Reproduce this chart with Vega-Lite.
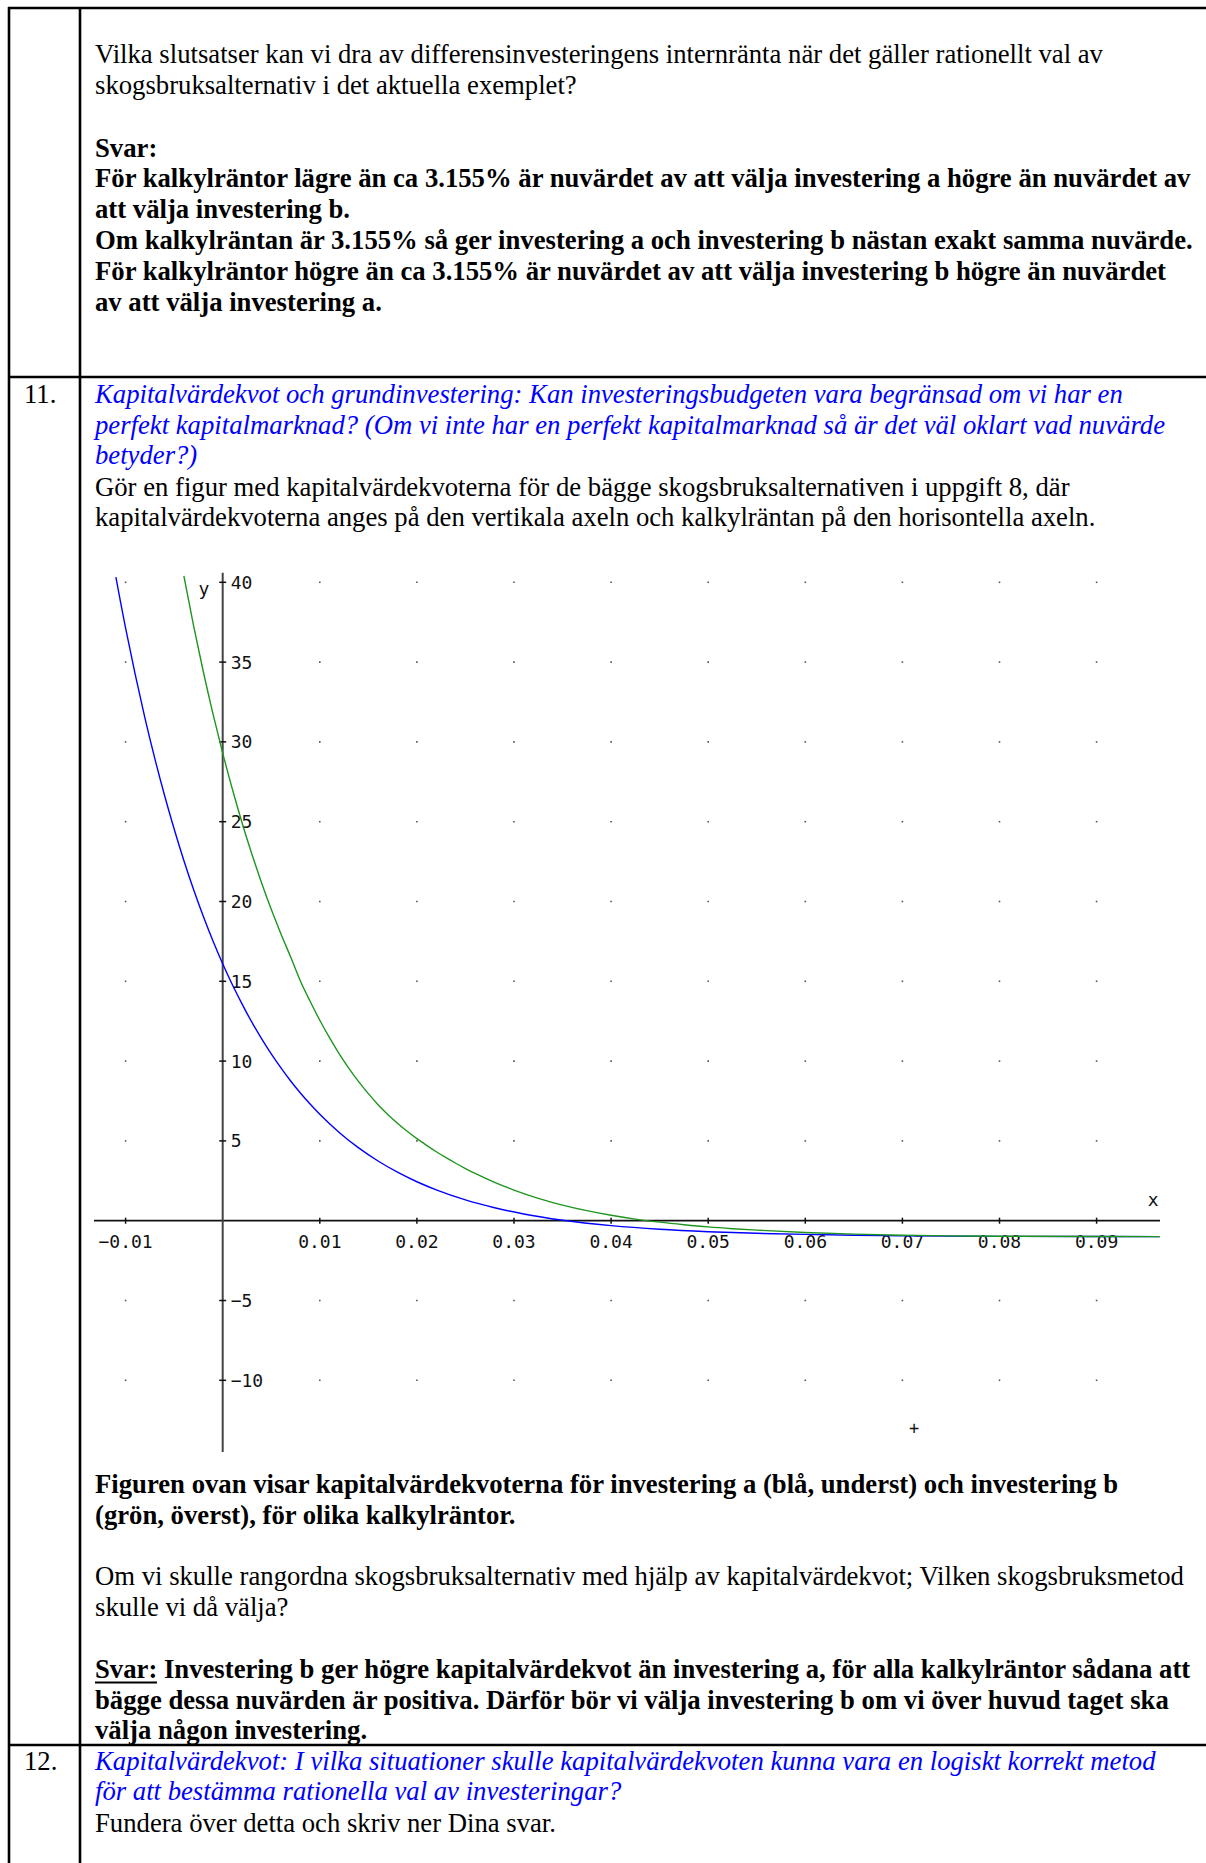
{
  "$schema": "https://vega.github.io/schema/vega-lite/v6.json",
  "width": 1206,
  "height": 1863,
  "autosize": {"type": "none"},
  "padding": 0,
  "background": "white",
  "config": {"view": {"stroke": null}},
  "datasets": {
    "curves": [
      {"s": "a", "r": -0.011, "k": 40.32},
      {"s": "a", "r": -0.0105, "k": 38.69},
      {"s": "a", "r": -0.01, "k": 37.13},
      {"s": "a", "r": -0.009, "k": 34.2},
      {"s": "a", "r": -0.008, "k": 31.48},
      {"s": "a", "r": -0.007, "k": 28.98},
      {"s": "a", "r": -0.006, "k": 26.67},
      {"s": "a", "r": -0.005, "k": 24.54},
      {"s": "a", "r": -0.004, "k": 22.57},
      {"s": "a", "r": -0.003, "k": 20.75},
      {"s": "a", "r": -0.002, "k": 19.08},
      {"s": "a", "r": -0.001, "k": 17.53},
      {"s": "a", "r": 0.0, "k": 16.1},
      {"s": "a", "r": 0.001, "k": 14.78},
      {"s": "a", "r": 0.002, "k": 13.57},
      {"s": "a", "r": 0.003, "k": 12.44},
      {"s": "a", "r": 0.004, "k": 11.41},
      {"s": "a", "r": 0.005, "k": 10.45},
      {"s": "a", "r": 0.006, "k": 9.57},
      {"s": "a", "r": 0.007, "k": 8.75},
      {"s": "a", "r": 0.008, "k": 8.0},
      {"s": "a", "r": 0.009, "k": 7.31},
      {"s": "a", "r": 0.01, "k": 6.67},
      {"s": "a", "r": 0.012, "k": 5.53},
      {"s": "a", "r": 0.014, "k": 4.56},
      {"s": "a", "r": 0.016, "k": 3.74},
      {"s": "a", "r": 0.018, "k": 3.04},
      {"s": "a", "r": 0.02, "k": 2.44},
      {"s": "a", "r": 0.022, "k": 1.93},
      {"s": "a", "r": 0.025, "k": 1.3},
      {"s": "a", "r": 0.028, "k": 0.81},
      {"s": "a", "r": 0.031, "k": 0.42},
      {"s": "a", "r": 0.035, "k": 0.03},
      {"s": "a", "r": 0.04, "k": -0.31},
      {"s": "a", "r": 0.045, "k": -0.54},
      {"s": "a", "r": 0.05, "k": -0.69},
      {"s": "a", "r": 0.055, "k": -0.79},
      {"s": "a", "r": 0.06, "k": -0.86},
      {"s": "a", "r": 0.065, "k": -0.91},
      {"s": "a", "r": 0.07, "k": -0.95},
      {"s": "a", "r": 0.08, "k": -0.98},
      {"s": "a", "r": 0.09, "k": -0.99},
      {"s": "a", "r": 0.0965, "k": -1.0},
      {"s": "b", "r": -0.004, "k": 40.4},
      {"s": "b", "r": -0.003, "k": 37.29},
      {"s": "b", "r": -0.002, "k": 34.41},
      {"s": "b", "r": -0.001, "k": 31.76},
      {"s": "b", "r": 0.0, "k": 29.3},
      {"s": "b", "r": 0.001, "k": 27.03},
      {"s": "b", "r": 0.002, "k": 24.92},
      {"s": "b", "r": 0.003, "k": 22.98},
      {"s": "b", "r": 0.004, "k": 21.18},
      {"s": "b", "r": 0.005, "k": 19.51},
      {"s": "b", "r": 0.006, "k": 17.97},
      {"s": "b", "r": 0.007, "k": 16.52},
      {"s": "b", "r": 0.008, "k": 15.02},
      {"s": "b", "r": 0.009, "k": 13.75},
      {"s": "b", "r": 0.01, "k": 12.56},
      {"s": "b", "r": 0.011, "k": 11.47},
      {"s": "b", "r": 0.012, "k": 10.46},
      {"s": "b", "r": 0.013, "k": 9.55},
      {"s": "b", "r": 0.014, "k": 8.71},
      {"s": "b", "r": 0.015, "k": 7.96},
      {"s": "b", "r": 0.016, "k": 7.27},
      {"s": "b", "r": 0.017, "k": 6.66},
      {"s": "b", "r": 0.018, "k": 6.11},
      {"s": "b", "r": 0.019, "k": 5.6},
      {"s": "b", "r": 0.02, "k": 5.14},
      {"s": "b", "r": 0.021, "k": 4.72},
      {"s": "b", "r": 0.022, "k": 4.32},
      {"s": "b", "r": 0.023, "k": 3.95},
      {"s": "b", "r": 0.024, "k": 3.6},
      {"s": "b", "r": 0.025, "k": 3.27},
      {"s": "b", "r": 0.026, "k": 2.96},
      {"s": "b", "r": 0.028, "k": 2.4},
      {"s": "b", "r": 0.03, "k": 1.92},
      {"s": "b", "r": 0.0325, "k": 1.4},
      {"s": "b", "r": 0.035, "k": 0.98},
      {"s": "b", "r": 0.0375, "k": 0.63},
      {"s": "b", "r": 0.04, "k": 0.34},
      {"s": "b", "r": 0.0425, "k": 0.1},
      {"s": "b", "r": 0.045, "k": -0.09},
      {"s": "b", "r": 0.0475, "k": -0.25},
      {"s": "b", "r": 0.05, "k": -0.39},
      {"s": "b", "r": 0.0525, "k": -0.5},
      {"s": "b", "r": 0.055, "k": -0.59},
      {"s": "b", "r": 0.06, "k": -0.74},
      {"s": "b", "r": 0.065, "k": -0.84},
      {"s": "b", "r": 0.07, "k": -0.91},
      {"s": "b", "r": 0.075, "k": -0.95},
      {"s": "b", "r": 0.08, "k": -0.97},
      {"s": "b", "r": 0.09, "k": -0.99},
      {"s": "b", "r": 0.0965, "k": -1.0}
    ],
    "grid": [
      {"gx": [-0.01, 0.01, 0.02, 0.03, 0.04, 0.05, 0.06, 0.07, 0.08, 0.09],
       "gy": [40, 35, 30, 25, 20, 15, 10, 5, -5, -10]}
    ]
  },
  "layer": [
    {
      "data": {"values": [{}]},
      "mark": {"type": "rule", "strokeWidth": 2.6, "color": "black"},
      "encoding": {
        "x": {"datum": -0.022111, "type": "quantitative", "scale": {"domain": [-0.022935, 0.101267], "nice": false, "zero": false}, "axis": null},
        "x2": {"datum": 0.101267},
        "y": {"datum": 75.984, "type": "quantitative", "scale": {"domain": [-40.2444, 76.485], "nice": false, "zero": false}, "axis": null}
      }
    },
    {
      "data": {"values": [{}]},
      "mark": {"type": "rule", "strokeWidth": 2.6, "color": "black"},
      "encoding": {
        "x": {"datum": -0.022111, "type": "quantitative", "axis": null},
        "x2": {"datum": 0.101267},
        "y": {"datum": 52.863, "type": "quantitative", "axis": null}
      }
    },
    {
      "data": {"values": [{}]},
      "mark": {"type": "rule", "strokeWidth": 2.6, "color": "black"},
      "encoding": {
        "x": {"datum": -0.022111, "type": "quantitative", "axis": null},
        "x2": {"datum": 0.101267},
        "y": {"datum": -32.851, "type": "quantitative", "axis": null}
      }
    },
    {
      "data": {"values": [{}]},
      "mark": {"type": "rule", "strokeWidth": 2.6, "color": "black"},
      "encoding": {
        "x": {"datum": -0.022008, "type": "quantitative", "axis": null},
        "y": {"datum": 76.05, "type": "quantitative", "axis": null},
        "y2": {"datum": -40.2444}
      }
    },
    {
      "data": {"values": [{}]},
      "mark": {"type": "rule", "strokeWidth": 2.6, "color": "black"},
      "encoding": {
        "x": {"datum": -0.014696, "type": "quantitative", "axis": null},
        "y": {"datum": 76.05, "type": "quantitative", "axis": null},
        "y2": {"datum": -40.2444}
      }
    },
    {
      "data": {"name": "grid"},
      "transform": [{"flatten": ["gx"]}, {"flatten": ["gy"]}],
      "mark": {"type": "square", "size": 2.5, "color": "#555", "opacity": 1},
      "encoding": {
        "x": {"field": "gx", "type": "quantitative", "axis": null},
        "y": {"field": "gy", "type": "quantitative", "axis": null}
      }
    },
    {
      "data": {"values": [{}]},
      "mark": {"type": "rule", "strokeWidth": 1.7, "color": "#111"},
      "encoding": {
        "x": {"datum": -0.013254, "type": "quantitative", "axis": null},
        "x2": {"datum": 0.096529},
        "y": {"datum": 0, "type": "quantitative", "axis": null}
      }
    },
    {
      "data": {"values": [{}]},
      "mark": {"type": "rule", "strokeWidth": 2, "color": "#444"},
      "encoding": {
        "x": {"datum": 0, "type": "quantitative", "axis": null},
        "y": {"datum": 40.6, "type": "quantitative", "axis": null},
        "y2": {"datum": -14.5}
      }
    },
    {
      "data": {"name": "grid"},
      "transform": [{"flatten": ["gx"]}],
      "mark": {"type": "rule", "strokeWidth": 1.5, "color": "#111"},
      "encoding": {
        "x": {"field": "gx", "type": "quantitative", "axis": null},
        "y": {"datum": 0.19, "type": "quantitative", "axis": null},
        "y2": {"datum": -0.19}
      }
    },
    {
      "data": {"name": "grid"},
      "transform": [{"flatten": ["gy"]}],
      "mark": {"type": "rule", "strokeWidth": 1.5, "color": "#111"},
      "encoding": {
        "x": {"datum": -0.00036, "type": "quantitative", "axis": null},
        "x2": {"datum": 0.00036},
        "y": {"field": "gy", "type": "quantitative", "axis": null}
      }
    },
    {
      "data": {"name": "grid"},
      "transform": [{"flatten": ["gx"]}],
      "mark": {"type": "text", "font": "DejaVu Sans Mono", "fontSize": 18, "color": "#111", "align": "center", "baseline": "alphabetic"},
      "encoding": {
        "x": {"field": "gx", "type": "quantitative", "axis": null},
        "y": {"datum": -1.711, "type": "quantitative", "axis": null},
        "text": {"field": "gx", "type": "quantitative", "format": ".2f"}
      }
    },
    {
      "data": {"name": "grid"},
      "transform": [{"flatten": ["gy"]}],
      "mark": {"type": "text", "font": "DejaVu Sans Mono", "fontSize": 18, "color": "#111", "align": "left", "baseline": "alphabetic", "dy": 6.5},
      "encoding": {
        "x": {"datum": 0.000824, "type": "quantitative", "axis": null},
        "y": {"field": "gy", "type": "quantitative", "axis": null},
        "text": {"field": "gy", "type": "quantitative", "format": "d"}
      }
    },
    {
      "data": {"name": "curves"},
      "mark": {"type": "line", "strokeWidth": 1.4, "interpolate": "monotone"},
      "encoding": {
        "x": {"field": "r", "type": "quantitative", "scale": {"domain": [-0.022935, 0.101267], "nice": false, "zero": false}, "axis": null},
        "y": {"field": "k", "type": "quantitative", "scale": {"domain": [-40.2444, 76.485], "nice": false, "zero": false}, "axis": null},
        "color": {"field": "s", "type": "nominal", "scale": {"domain": ["a", "b"], "range": ["#0000ff", "#1e961e"]}, "legend": null},
        "order": {"field": "r", "type": "quantitative"}
      }
    },
    {
      "data": {"values": [{}]},
      "mark": {"type": "text", "text": "y", "font": "DejaVu Sans Mono", "fontSize": 18, "color": "#111", "align": "center", "baseline": "middle"},
      "encoding": {
        "x": {"datum": -0.001926, "type": "quantitative", "axis": null},
        "y": {"datum": 39.517, "type": "quantitative", "axis": null}
      }
    },
    {
      "data": {"values": [{}]},
      "mark": {"type": "text", "text": "x", "font": "DejaVu Sans Mono", "fontSize": 18, "color": "#111", "align": "center", "baseline": "middle"},
      "encoding": {
        "x": {"datum": 0.095839, "type": "quantitative", "axis": null},
        "y": {"datum": 1.234, "type": "quantitative", "axis": null}
      }
    },
    {
      "data": {"values": [{}]},
      "mark": {"type": "text", "text": "+", "font": "DejaVu Sans Mono", "fontSize": 17, "color": "#111", "align": "center", "baseline": "middle"},
      "encoding": {
        "x": {"datum": 0.071195, "type": "quantitative", "axis": null},
        "y": {"datum": -13.076, "type": "quantitative", "axis": null}
      }
    },
    {
      "data": {"values": [{}]},
      "mark": {"type": "text", "font": "Liberation Serif", "fontSize": 26.7, "color": "black", "align": "left", "baseline": "alphabetic", "lineHeight": 31,
        "text": ["Vilka slutsatser kan vi dra av differensinvesteringens internränta när det gäller rationellt val av", "skogsbruksalternativ i det aktuella exemplet?"]},
      "encoding": {
        "x": {"datum": -0.013151, "type": "quantitative", "axis": null},
        "y": {"datum": 72.513, "type": "quantitative", "axis": null}
      }
    },
    {
      "data": {"values": [{}]},
      "mark": {"type": "text", "font": "Liberation Serif", "fontSize": 26.7, "fontWeight": "bold", "color": "black", "align": "left", "baseline": "alphabetic", "lineHeight": 31,
        "text": ["Svar:"]},
      "encoding": {
        "x": {"datum": -0.013151, "type": "quantitative", "axis": null},
        "y": {"datum": 66.623, "type": "quantitative", "axis": null}
      }
    },
    {
      "data": {"values": [{}]},
      "mark": {"type": "text", "font": "Liberation Serif", "fontSize": 26.7, "fontWeight": "bold", "color": "black", "align": "left", "baseline": "alphabetic", "lineHeight": 31,
        "text": ["För kalkylräntor lägre än ca 3.155% är nuvärdet av att välja investering a högre än nuvärdet av", "att välja investering b.", "Om kalkylräntan är 3.155% så ger investering a och investering b nästan exakt samma nuvärde.", "För kalkylräntor högre än ca 3.155% är nuvärdet av att välja investering b högre än nuvärdet", "av att välja investering a."]},
      "encoding": {
        "x": {"datum": -0.013151, "type": "quantitative", "axis": null},
        "y": {"datum": 64.743, "type": "quantitative", "axis": null}
      }
    },
    {
      "data": {"values": [{}]},
      "mark": {"type": "text", "font": "Liberation Serif", "fontSize": 26.7, "color": "black", "align": "left", "baseline": "alphabetic", "text": "11."},
      "encoding": {
        "x": {"datum": -0.020463, "type": "quantitative", "axis": null},
        "y": {"datum": 51.21, "type": "quantitative", "axis": null}
      }
    },
    {
      "data": {"values": [{}]},
      "mark": {"type": "text", "font": "Liberation Serif", "fontSize": 26.7, "fontStyle": "italic", "color": "#0000ff", "align": "left", "baseline": "alphabetic", "lineHeight": 30.5,
        "text": ["Kapitalvärdekvot och grundinvestering: Kan investeringsbudgeten vara begränsad om vi har en", "perfekt kapitalmarknad? (Om vi inte har en perfekt kapitalmarknad så är det väl oklart vad nuvärde", "betyder?)"]},
      "encoding": {
        "x": {"datum": -0.013151, "type": "quantitative", "axis": null},
        "y": {"datum": 51.21, "type": "quantitative", "axis": null}
      }
    },
    {
      "data": {"values": [{}]},
      "mark": {"type": "text", "font": "Liberation Serif", "fontSize": 26.7, "color": "black", "align": "left", "baseline": "alphabetic", "lineHeight": 30,
        "text": ["Gör en figur med kapitalvärdekvoterna för de bägge skogsbruksalternativen i uppgift 8, där", "kapitalvärdekvoterna anges på den vertikala axeln och kalkylräntan på den horisontella axeln."]},
      "encoding": {
        "x": {"datum": -0.013151, "type": "quantitative", "axis": null},
        "y": {"datum": 45.433, "type": "quantitative", "axis": null}
      }
    },
    {
      "data": {"values": [{}]},
      "mark": {"type": "text", "font": "Liberation Serif", "fontSize": 26.7, "fontWeight": "bold", "color": "black", "align": "left", "baseline": "alphabetic", "lineHeight": 31,
        "text": ["Figuren ovan visar kapitalvärdekvoterna för investering a (blå, underst) och investering b", "(grön, överst), för olika kalkylräntor."]},
      "encoding": {
        "x": {"datum": -0.013151, "type": "quantitative", "axis": null},
        "y": {"datum": -17.086, "type": "quantitative", "axis": null}
      }
    },
    {
      "data": {"values": [{}]},
      "mark": {"type": "text", "font": "Liberation Serif", "fontSize": 26.7, "color": "black", "align": "left", "baseline": "alphabetic", "lineHeight": 31,
        "text": ["Om vi skulle rangordna skogsbruksalternativ med hjälp av kapitalvärdekvot; Vilken skogsbruksmetod", "skulle vi då välja?"]},
      "encoding": {
        "x": {"datum": -0.013151, "type": "quantitative", "axis": null},
        "y": {"datum": -22.851, "type": "quantitative", "axis": null}
      }
    },
    {
      "data": {"values": [{}]},
      "mark": {"type": "text", "font": "Liberation Serif", "fontSize": 26.7, "fontWeight": "bold", "color": "black", "align": "left", "baseline": "alphabetic", "lineHeight": 30.5,
        "text": ["Svar: Investering b ger högre kapitalvärdekvot än investering a, för alla kalkylräntor sådana att", "bägge dessa nuvärden är positiva. Därför bör vi välja investering b om vi över huvud taget ska", "välja någon investering."]},
      "encoding": {
        "x": {"datum": -0.013151, "type": "quantitative", "axis": null},
        "y": {"datum": -28.678, "type": "quantitative", "axis": null}
      }
    },
    {
      "data": {"values": [{}]},
      "mark": {"type": "rule", "strokeWidth": 2, "color": "black"},
      "encoding": {
        "x": {"datum": -0.013151, "type": "quantitative", "axis": null},
        "x2": {"datum": -0.006766},
        "y": {"datum": -28.928, "type": "quantitative", "axis": null}
      }
    },
    {
      "data": {"values": [{}]},
      "mark": {"type": "text", "font": "Liberation Serif", "fontSize": 26.7, "color": "black", "align": "left", "baseline": "alphabetic", "text": "12."},
      "encoding": {
        "x": {"datum": -0.020463, "type": "quantitative", "axis": null},
        "y": {"datum": -34.442, "type": "quantitative", "axis": null}
      }
    },
    {
      "data": {"values": [{}]},
      "mark": {"type": "text", "font": "Liberation Serif", "fontSize": 26.7, "fontStyle": "italic", "color": "#0000ff", "align": "left", "baseline": "alphabetic", "lineHeight": 30,
        "text": ["Kapitalvärdekvot: I vilka situationer skulle kapitalvärdekvoten kunna vara en logiskt korrekt metod", "för att bestämma rationella val av investeringar?"]},
      "encoding": {
        "x": {"datum": -0.013151, "type": "quantitative", "axis": null},
        "y": {"datum": -34.442, "type": "quantitative", "axis": null}
      }
    },
    {
      "data": {"values": [{}]},
      "mark": {"type": "text", "font": "Liberation Serif", "fontSize": 26.7, "color": "black", "align": "left", "baseline": "alphabetic", "text": "Fundera över detta och skriv ner Dina svar."},
      "encoding": {
        "x": {"datum": -0.013151, "type": "quantitative", "axis": null},
        "y": {"datum": -38.276, "type": "quantitative", "axis": null}
      }
    }
  ]
}
